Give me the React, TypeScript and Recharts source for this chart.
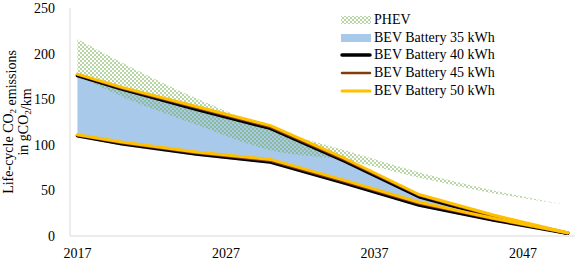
import { ComposedChart, Area, Line, XAxis, YAxis, Legend } from 'recharts'

// values, gCO2/km
const years = [2017, 2020, 2025, 2030, 2035, 2040, 2045, 2050]
const phevHigh = [216, 190, 151, 118, 94, 70, 50, 34]
const phevLow = [176, 153, 122, 94, 83, 64, 47, 34]
const bev35High = [175.5, 160, 138, 117, 81, 42, 20, 2.5]
const bev35Low = [108.5, 99, 88, 79, 56, 32, 16, 2.5]
const bev40High = [176, 161, 139, 118, 82, 43, 21, 3]
const bev40Low = [110, 101, 90, 81, 58, 34, 17.5, 3]
const bev45High = [177, 162, 140.5, 119.5, 83.5, 44.5, 22, 3]
const bev45Low = [110.5, 102, 91, 82.5, 59.5, 35.5, 18.5, 3]
const bev50High = [177.5, 163, 142, 121, 85, 45.5, 23, 3.5]
const bev50Low = [111, 103, 92, 84, 61, 37, 19.5, 3.5]

const xTicks = [2017, 2027, 2037, 2047]
const yTicks = [0, 50, 100, 150, 200, 250]

const data = years.map((year, i) => ({
  year,
  phev: [phevLow[i], phevHigh[i]],
  bev35: [bev35Low[i], bev35High[i]],
  bev40High: bev40High[i],
  bev40Low: bev40Low[i],
  bev45High: bev45High[i],
  bev45Low: bev45Low[i],
  bev50High: bev50High[i],
  bev50Low: bev50Low[i],
}))

const FONT = '"Liberation Serif", "Times New Roman", serif'
const BLUE = '#A9C9EA'
const BROWN = '#843C0C'
const ORANGE = '#FFC000'

type LegendItem = { name: string; kind: 'pattern' | 'box' | 'line'; color?: string; width?: number }

const legendItems: LegendItem[] = [
  { name: 'PHEV', kind: 'pattern' },
  { name: 'BEV Battery 35 kWh', kind: 'box', color: BLUE },
  { name: 'BEV Battery 40 kWh', kind: 'line', color: '#000', width: 3.5 },
  { name: 'BEV Battery 45 kWh', kind: 'line', color: BROWN, width: 2.5 },
  { name: 'BEV Battery 50 kWh', kind: 'line', color: ORANGE, width: 3 },
]

function Checker({ id }: { id: string }) {
  return (
    <pattern id={id} width="4" height="4" patternUnits="userSpaceOnUse">
      <rect x="0" y="0" width="2" height="2" fill="#70AD47" fillOpacity={0.5} />
      <rect x="2" y="2" width="2" height="2" fill="#70AD47" fillOpacity={0.5} />
    </pattern>
  )
}

function LegendBox() {
  return (
    <div style={{ fontFamily: FONT, fontSize: 14, color: '#000' }}>
      {legendItems.map(item => (
        <div key={item.name} style={{ display: 'flex', alignItems: 'center', height: 17.75 }}>
          <svg width={32} height={10} style={{ marginRight: 2 }}>
            {item.kind === 'pattern' && (
              <>
                <defs><Checker id="phevLegend" /></defs>
                <rect x={1} y={1} width={30} height={8} fill="url(#phevLegend)" />
              </>
            )}
            {item.kind === 'box' && <rect x={1} y={1} width={30} height={8} fill={item.color} />}
            {item.kind === 'line' && (
              <line x1={2} y1={5} x2={30} y2={5} stroke={item.color} strokeWidth={item.width} strokeLinecap="round" />
            )}
          </svg>
          <span style={{ whiteSpace: 'nowrap' }}>{item.name}</span>
        </div>
      ))}
    </div>
  )
}

function YLabel({ viewBox }: any) {
  const cy = viewBox.y + viewBox.height / 2
  const sub = (t: string) => (
    <>
      <tspan dy={3} fontSize={9}>{t}</tspan>
      <tspan dy={-3}>{''}</tspan>
    </>
  )
  return (
    <g fontFamily={FONT} fontSize={14} fill="#000">
      <text x={13} y={cy} textAnchor="middle" transform={`rotate(-90, 13, ${cy})`}>
        Life-cycle CO{sub('2')} emissions
      </text>
      <text x={28} y={cy} textAnchor="middle" transform={`rotate(-90, 28, ${cy})`}>
        in gCO{sub('2')}/km
      </text>
    </g>
  )
}

const lineProps = {
  dot: false,
  activeDot: false,
  isAnimationActive: false,
  type: 'linear' as const,
  strokeLinecap: 'round' as const,
  strokeLinejoin: 'round' as const,
  legendType: 'none' as const,
}

export default function App() {
  const tick = { fontFamily: FONT, fontSize: 14, fill: '#000' }
  return (
    <div style={{ position: 'absolute', left: 0, top: 0 }}>
      <ComposedChart width={575} height={263} data={data} margin={{ top: 8, right: 0, bottom: 0, left: 0 }}>
        <defs><Checker id="phevChecker" /></defs>
        <XAxis
          dataKey="year"
          type="number"
          domain={[2016.5, 2050.5]}
          ticks={xTicks}
          allowDataOverflow
          height={27}
          tickLine={false}
          tickSize={0}
          tickMargin={12}
          stroke="#D9D9D9"
          tick={tick}
        />
        <YAxis
          domain={[0, 250]}
          ticks={yTicks}
          width={70}
          tickLine={false}
          tickSize={0}
          tickMargin={15}
          stroke="#D9D9D9"
          tick={tick}
          label={{ content: YLabel }}
        />
        <Area dataKey="bev35" type="linear" fill={BLUE} fillOpacity={1} stroke="none" isAnimationActive={false} activeDot={false} legendType="none" />
        <Area dataKey="phev" type="monotone" fill="url(#phevChecker)" fillOpacity={1} stroke="none" isAnimationActive={false} activeDot={false} legendType="none" />
        <Line dataKey="bev40High" stroke="#000" strokeWidth={3.5} {...lineProps} />
        <Line dataKey="bev40Low" stroke="#000" strokeWidth={3.5} {...lineProps} />
        <Line dataKey="bev45High" stroke={BROWN} strokeWidth={2.5} {...lineProps} />
        <Line dataKey="bev45Low" stroke={BROWN} strokeWidth={2.5} {...lineProps} />
        <Line dataKey="bev50High" stroke={ORANGE} strokeWidth={3} {...lineProps} />
        <Line dataKey="bev50Low" stroke={ORANGE} strokeWidth={3} {...lineProps} />
        <Legend
          layout="vertical"
          align="center"
          verticalAlign="middle"
          content={() => <LegendBox />}
          wrapperStyle={{ left: 340, top: 11, width: 235, height: 'auto' }}
        />
      </ComposedChart>
    </div>
  )
}
